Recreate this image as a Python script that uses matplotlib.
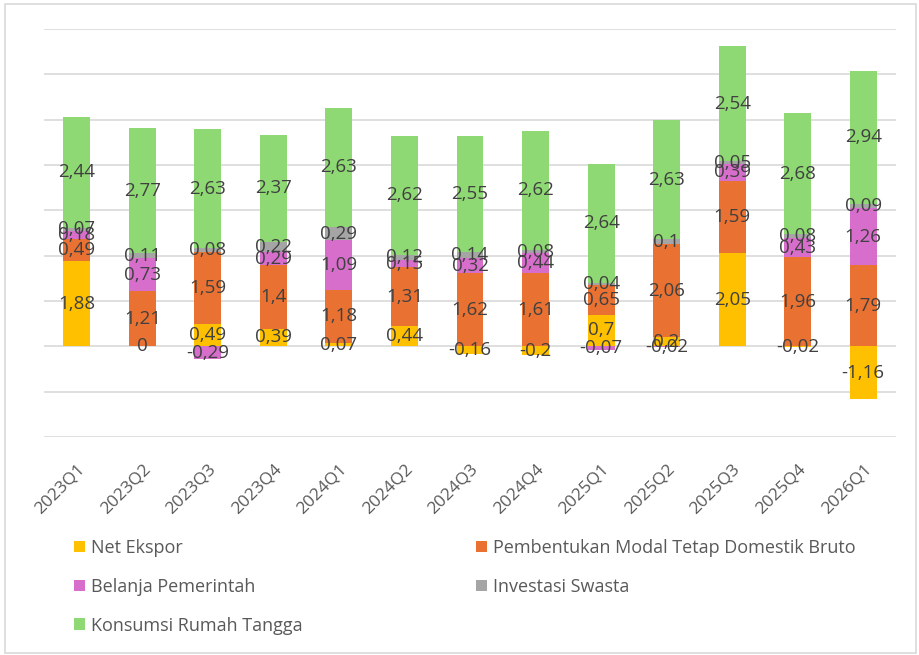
import matplotlib
matplotlib.use("Agg")
import matplotlib.pyplot as plt
import numpy as np
from matplotlib.patches import Rectangle, Patch

plt.rcParams['font.family'] = ['Open Sans', 'DejaVu Sans']

quarters = ["2023Q1", "2023Q2", "2023Q3", "2023Q4", "2024Q1", "2024Q2", "2024Q3",
            "2024Q4", "2025Q1", "2025Q2", "2025Q3", "2025Q4", "2026Q1"]

net_ekspor = [1.88, 0.0, 0.49, 0.39, 0.07, 0.44, -0.16, -0.20, 0.70, 0.20, 2.05, -0.02, -1.16]
pmtb = [0.49, 1.21, 1.59, 1.40, 1.18, 1.31, 1.62, 1.61, 0.65, 2.06, 1.59, 1.96, 1.79]
belanja = [0.18, 0.73, -0.29, 0.29, 1.09, 0.15, 0.32, 0.44, -0.07, -0.02, 0.39, 0.43, 1.26]
investasi = [0.07, 0.11, 0.08, 0.22, 0.29, 0.12, 0.14, 0.08, 0.04, 0.10, 0.05, 0.08, 0.09]
konsumsi = [2.44, 2.77, 2.63, 2.37, 2.63, 2.62, 2.55, 2.62, 2.64, 2.63, 2.54, 2.68, 2.94]

series_names = ["Net Ekspor", "Pembentukan Modal Tetap Domestik Bruto",
                "Belanja Pemerintah", "Investasi Swasta", "Konsumsi Rumah Tangga"]
series_vals = [net_ekspor, pmtb, belanja, investasi, konsumsi]
colors = ["#FFC000", "#E97132", "#D86ECC", "#A5A5A5", "#8ED973"]

fig = plt.figure(figsize=(9.19, 6.55), dpi=100)
fig.patches.append(Rectangle((0.005, 0.003), 0.992, 0.991, transform=fig.transFigure,
                             fill=False, edgecolor="#D9D9D9", linewidth=1.2))

ax = fig.add_axes([44 / 919, 1 - 437 / 655, (896 - 44) / 919, (437 - 29) / 655])
x = np.arange(len(quarters))
width = 0.41

pos_base = np.zeros(len(quarters))
neg_base = np.zeros(len(quarters))
for name, vals, col in zip(series_names, series_vals, colors):
    v = np.array(vals, dtype=float)
    bottoms = np.where(v >= 0, pos_base, neg_base)
    ax.bar(x, v, width, bottom=bottoms, color=col, label=name, zorder=3)
    for xi, vi, bi in zip(x, v, bottoms):
        lbl = ("%g" % vi).replace(".", ",")
        ax.text(xi, bi + vi / 2, lbl, ha="center", va="center", fontsize=13.5,
                color="#404040", zorder=5)
    pos_base = pos_base + np.where(v >= 0, v, 0)
    neg_base = neg_base + np.where(v < 0, v, 0)

ax.set_ylim(-2, 7)
ax.set_xlim(-0.5, len(quarters) - 0.5)
ax.set_yticks(np.arange(-2, 8, 1))
ax.set_yticklabels([])
ax.tick_params(axis="y", length=0)
ax.tick_params(axis="x", length=0, pad=17)
ax.set_xticks(x)
ax.set_xticklabels(quarters, rotation=45, ha="right",
                   rotation_mode="anchor", fontsize=12.5, color="#595959")
ax.grid(axis="y", color="#D9D9D9", linewidth=1.2, zorder=0)
for s in ax.spines.values():
    s.set_visible(False)

order = [0, 2, 4, 1, 3]
handles = [Patch(facecolor=colors[i], edgecolor="none") for i in order]
labels = [series_names[i] for i in order]
leg = fig.legend(handles, labels, loc="upper left", ncol=2,
                 bbox_to_anchor=(74 / 919, 1 - 539 / 655), frameon=False,
                 fontsize=13, handlelength=0.6, handleheight=0.6,
                 handletextpad=0.35, columnspacing=9.6, labelspacing=1.15,
                 borderaxespad=0, borderpad=0)
for t in leg.get_texts():
    t.set_color("#595959")

fig.savefig("out.png", dpi=100)
